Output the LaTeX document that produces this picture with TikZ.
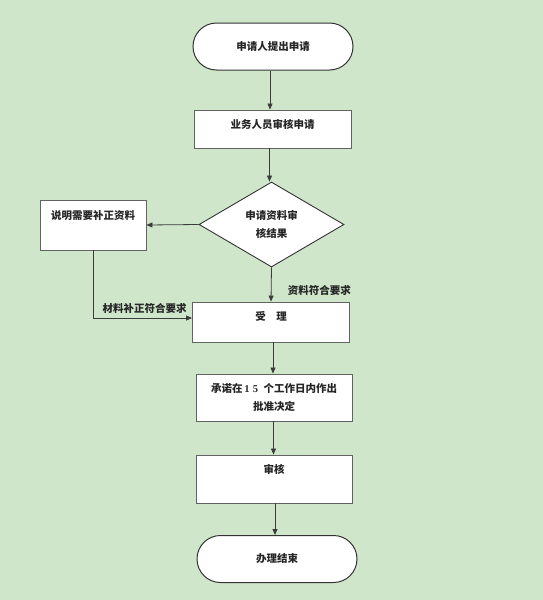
\documentclass[tikz,border=0pt]{standalone}
\usepackage{fontspec}
\newfontfamily\cjk{Noto Sans CJK SC}
\setmainfont{Liberation Serif}
\usetikzlibrary{shapes.geometric,shapes.misc,arrows.meta}
\definecolor{bggreen}{RGB}{207,230,203}
\definecolor{linegray}{RGB}{60,60,60}

\begin{document}
\begin{tikzpicture}[
    x=1pt, y=-1pt,
    every node/.style={font=\cjk\bfseries\fontsize{10.5}{18}\selectfont, text=black!85},
    terminal/.style={rounded rectangle, draw=black!80, line width=1pt, fill=white,
        minimum width=160pt, minimum height=47pt, inner sep=0pt},
    box/.style={rectangle, draw=linegray!80, line width=0.9pt, fill=white,
        minimum width=157pt, minimum height=38pt, inner sep=0pt, align=center},
    lift/.style={text height=8pt, text depth=#1},
    decision/.style={diamond, draw=black!80, line width=0.9pt, fill=white,
        minimum width=145pt, minimum height=85pt, inner sep=0pt, align=center},
    flow/.style={draw=linegray, line width=0.8pt, -{Triangle[length=6pt,width=5pt]}}
]

% background and page size
\fill[bggreen] (0,0) rectangle (543,600);
\useasboundingbox (0,0) rectangle (543,600);

% main column
\node[terminal] (start) at (273,46.5) {申请人提出申请};
\node[box, lift=10pt] (check) at (272.5,129) {业务人员审核申请};
\node[decision] (result) at (271.5,224.5) {申请资料审\\核结果};
\node[box, minimum width=106pt, minimum height=50pt, lift=20pt] (supply) at (93,225) {说明需要补正资料};
\node[box, minimum height=40pt, lift=12pt] (accept) at (271,322) {受\quad 理};
\node[box, minimum width=156pt, minimum height=47pt] (promise) at (274,397.5)
    {承诺在{\rmfamily\bfseries\,1\,\,5}\enspace 个工作日内作出\\批准决定};
\node[box, minimum width=156pt, minimum height=48pt, lift=20pt] (review) at (274,479) {审核};
\node[terminal, minimum width=160pt, minimum height=47pt] (finish) at (277,559) {办理结束};

% connectors
\draw[flow] ([xshift=-3pt]start.south) -- ([xshift=-2.5pt]check.north);
\draw[flow] ([xshift=-3pt]check.south) -- ([xshift=-2pt]result.north);
\draw[flow] (result.west) -- (supply.east);
\draw[flow] (result.south) -- (accept.north)
    node[pos=0.68, right=13pt] {资料符合要求};
\draw[flow] (supply.south) |- ([yshift=4pt]accept.west)
    node[pos=0.76, above=1pt] {材料补正符合要求};
\draw[flow] ([xshift=2pt]accept.south) -- ([xshift=-1pt]promise.north);
\draw[flow] ([xshift=-0.5pt]promise.south) -- ([xshift=-0.5pt]review.north);
\draw[flow] ([xshift=1pt]review.south) -- ([xshift=-2pt]finish.north);

\end{tikzpicture}
\end{document}
